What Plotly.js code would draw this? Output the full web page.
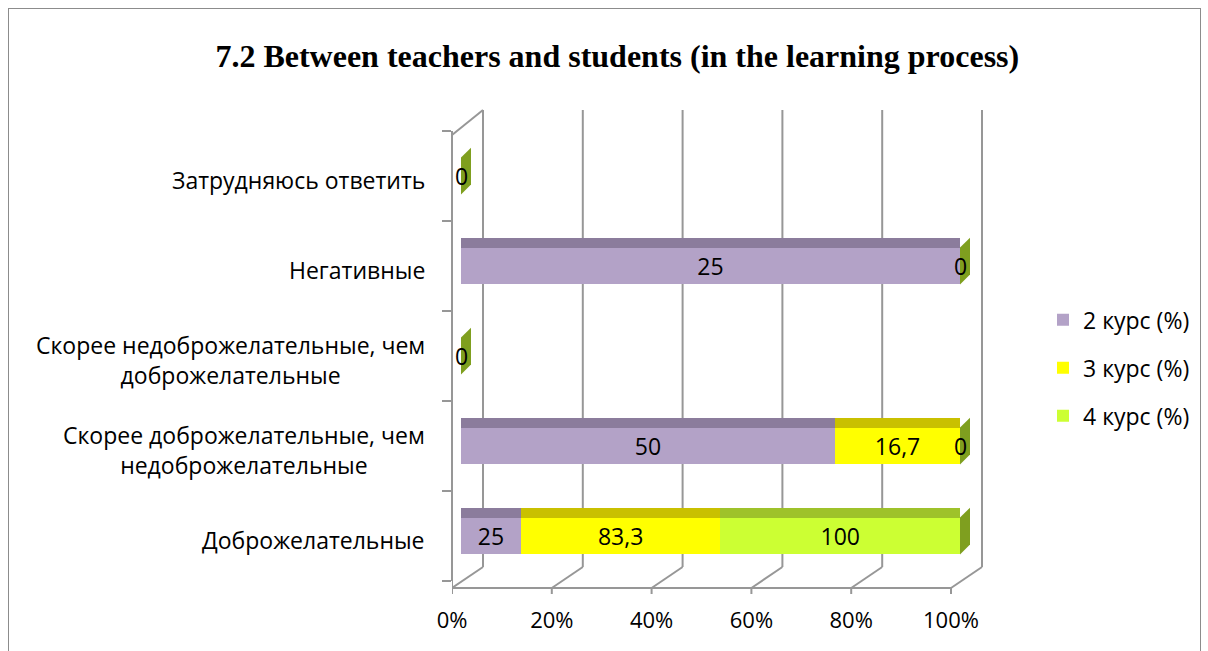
<!DOCTYPE html>
<html>
<head>
<meta charset="utf-8">
<script src="https://cdn.plot.ly/plotly-3.0.1.min.js"></script>
<style>
  html, body { margin: 0; padding: 0; background: #fff; }
  #wrap { position: relative; width: 1208px; height: 651px; overflow: hidden; }
  #chart { position: absolute; left: 0; top: 0; width: 1208px; height: 651px; }
  #frame { position: absolute; left: 8px; top: 8px; width: 1191px; height: 700px;
           border: 1px solid #8c8c8c; pointer-events: none; z-index: 5; }
</style>
</head>
<body>
<div id="wrap">
  <div id="chart"></div>
  <div id="frame"></div>
</div>
<script>
// ---- data (bottom to top, as in the source chart) ----
const categories = [
  'Доброжелательные',
  'Скорее доброжелательные, чем недоброжелательные',
  'Скорее недоброжелательные, чем доброжелательные',
  'Негативные',
  'Затрудняюсь ответить'
];
const categoryLabels = [
  'Доброжелательные',
  'Скорее доброжелательные, чем<br>недоброжелательные',
  'Скорее недоброжелательные, чем<br>доброжелательные',
  'Негативные',
  'Затрудняюсь ответить'
];
const seriesNames = ['2 курс (%)', '3 курс (%)', '4 курс (%)'];
const kurs2 = [25, 50, 0, 25, 0];
const kurs3 = [83.3, 16.7, 0, 0, 0];
const kurs4 = [100, 0, 0, 0, 0];
const xTickVals = [0, 20, 40, 60, 80, 100];
const xTickText = ['0%', '20%', '40%', '60%', '80%', '100%'];
const chartTitle = '7.2 Between teachers and students (in the learning process)';

// ---- styles ----
const frontColors = ['#B3A2C7', '#FFFF00', '#CCFF33'];
const topColors = ['#8B7C9C', '#C9C000', '#9EC22A'];
const sideColor = '#7F9F1F';
const FONT = '"Open Sans", "Noto Sans", sans-serif';
const FS = 23;
const gridColor = '#979797';

// pseudo-3D geometry (pixels)
const PLOT_L = 452, PLOT_R = 990, PLOT_T = 131, PLOT_B = 581;
const PX = 4.99;           // pixels per percent on the value axis
const BAR0 = 9;            // bars start 9px right of the front edge
const DEPTH_X = 22, DEPTH_Y = 21;   // back wall offset
const FLOOR_DROP = 7;      // front floor edge below plot bottom
const plotH = PLOT_B - PLOT_T;

const series = [kurs2, kurs3, kurs4];
const totals = categories.map((_, i) => series.reduce((a, s) => a + s[i], 0));
const share = (v, i) => totals[i] ? v / totals[i] * 100 : 0;
const fmt = v => String(v).replace('.', ',');

const BW = 0.41;   // front face thickness (category units)
const TOP = 0.11;  // top face

const traces = [];
series.forEach((s, k) => {
  traces.push({
    type: 'bar', orientation: 'h', name: seriesNames[k], legendgroup: 'g' + k,
    y: categories, x: s.map((v, i) => share(v, i)),
    text: s.map(v => v ? fmt(v) : ''),
    textposition: 'inside', insidetextanchor: 'middle', constraintext: 'none', textangle: 0,
    textfont: { family: FONT, size: FS, color: '#000' },
    marker: { color: frontColors[k], line: { width: 0 } },
    width: BW, hoverinfo: 'skip'
  });
});
series.forEach((s, k) => {
  traces.push({
    type: 'bar', orientation: 'h', yaxis: 'y2', showlegend: false,
    y: categories, x: s.map((v, i) => share(v, i)),
    marker: { color: topColors[k], line: { width: 0 } },
    width: TOP, offset: BW / 2, hoverinfo: 'skip'
  });
});

const shapes = [];
const line = { color: gridColor, width: 2 };
const yPaper = px => (PLOT_B - px) / plotH;   // pixel row -> paper y
// back-wall gridlines + floor diagonals + front tick marks
xTickVals.forEach(t => {
  shapes.push({ type: 'line', layer: 'below', xref: 'x', yref: 'paper',
    x0: t + DEPTH_X / PX, x1: t + DEPTH_X / PX,
    y0: yPaper(PLOT_B - DEPTH_Y + FLOOR_DROP), y1: yPaper(PLOT_T - DEPTH_Y), line });
  shapes.push({ type: 'line', layer: 'below', xref: 'x', yref: 'paper',
    x0: t - BAR0 / PX, x1: t + DEPTH_X / PX,
    y0: yPaper(PLOT_B + FLOOR_DROP), y1: yPaper(PLOT_B - DEPTH_Y + FLOOR_DROP), line });
  shapes.push({ type: 'line', layer: 'below', xref: 'x', yref: 'paper',
    x0: t - BAR0 / PX, x1: t - BAR0 / PX,
    y0: yPaper(PLOT_B + FLOOR_DROP), y1: yPaper(PLOT_B + FLOOR_DROP + 6), line });
});
// front floor edge
shapes.push({ type: 'line', layer: 'below', xref: 'x', yref: 'paper',
  x0: xTickVals[0] - BAR0 / PX, x1: xTickVals[xTickVals.length - 1] - BAR0 / PX,
  y0: yPaper(PLOT_B + FLOOR_DROP), y1: yPaper(PLOT_B + FLOOR_DROP), line });
// left wall: front edge extension + top diagonal
shapes.push({ type: 'line', layer: 'below', xref: 'x', yref: 'paper',
  x0: xTickVals[0] - BAR0 / PX, x1: xTickVals[0] - BAR0 / PX,
  y0: yPaper(PLOT_B), y1: yPaper(PLOT_B + FLOOR_DROP), line });
shapes.push({ type: 'line', layer: 'below', xref: 'x', yref: 'paper',
  x0: xTickVals[0] - BAR0 / PX, x1: xTickVals[0] + DEPTH_X / PX,
  y0: yPaper(PLOT_T + 4), y1: yPaper(PLOT_T - DEPTH_Y), line });
// side faces at the end of each stack
const half = BW * 90 / 2, topPx = TOP * 90, sideW = 10;
categories.forEach((c, i) => {
  shapes.push({ type: 'path', layer: 'above', xref: 'x', yref: 'y',
    xsizemode: 'pixel', ysizemode: 'pixel', xanchor: totals[i] ? 100 : 0, yanchor: i,
    path: `M0,${-half} L0,${half} L${sideW},${half + topPx} L${sideW},${-half + topPx} Z`,
    fillcolor: sideColor, line: { width: 0 } });
});

// zero labels
const annotations = [];
categories.forEach((c, i) => {
  let cum = 0; const seen = new Set();
  series.forEach(s => {
    cum += share(s[i], i);
    if (s[i] === 0 && !seen.has(cum.toFixed(3))) {
      seen.add(cum.toFixed(3));
      annotations.push({ x: cum, y: c, xref: 'x', yref: 'y', text: '0', showarrow: false,
        xanchor: 'center', yanchor: 'middle', font: { family: FONT, size: FS, color: '#000' } });
    }
  });
});
// category labels
categories.forEach((c, i) => {
  annotations.push({ x: 0, xref: 'paper', y: c, yref: 'y', text: categoryLabels[i],
    showarrow: false, xanchor: 'right', yanchor: 'middle', align: 'center', xshift: -25, yshift: -4,
    font: { family: FONT, size: FS, color: '#000' } });
});

const layout = {
  width: 1208, height: 651,
  margin: { l: PLOT_L, r: 1208 - PLOT_R, t: PLOT_T, b: 651 - PLOT_B, pad: 0 },
  paper_bgcolor: '#fff', plot_bgcolor: 'rgba(0,0,0,0)',
  barmode: 'stack',
  title: { text: chartTitle, xref: 'container', yref: 'container', x: 0.511, y: 0.915,
    xanchor: 'center', yanchor: 'middle',
    font: { family: '"Liberation Serif", "Times New Roman", serif', size: 32, weight: 700, color: '#000' } },
  xaxis: {
    domain: [0, 1], range: [-BAR0 / PX, (PLOT_R - PLOT_L - BAR0) / PX],
    tickvals: xTickVals, ticktext: xTickText,
    showgrid: false, zeroline: false, showline: false, ticks: '',
    ticklabelshift: -BAR0, ticklabelstandoff: 24,
    tickfont: { family: FONT, size: 22, color: '#000' }, fixedrange: true
  },
  yaxis: {
    type: 'category', categoryorder: 'array', categoryarray: categories, range: [-0.5, 4.5],
    anchor: 'free', position: 0, showline: true, linecolor: gridColor, linewidth: 2,
    ticks: 'outside', ticklen: 9, tickcolor: gridColor, tickwidth: 2, tickson: 'boundaries',
    showticklabels: false, showgrid: false, zeroline: false, fixedrange: true
  },
  yaxis2: {
    type: 'category', categoryorder: 'array', categoryarray: categories, range: [-0.5, 4.5],
    overlaying: 'y', anchor: 'x', visible: false, fixedrange: true
  },
  legend: {
    x: (1043 - PLOT_L) / (PLOT_R - PLOT_L), y: 0.628, xanchor: 'left', yanchor: 'top',
    traceorder: 'grouped', tracegroupgap: 15, bgcolor: 'rgba(0,0,0,0)',
    font: { family: FONT, size: FS, color: '#000' }
  },
  shapes: shapes,
  annotations: annotations,
  showlegend: true
};

Plotly.newPlot('chart', traces, layout, { displayModeBar: false, staticPlot: true });
</script>
</body>
</html>
